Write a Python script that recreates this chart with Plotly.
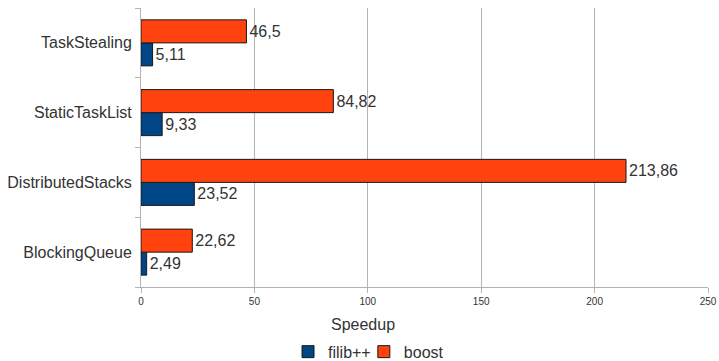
import plotly.graph_objects as go

categories = ["BlockingQueue", "DistributedStacks", "StaticTaskList", "TaskStealing"]
filib = [2.49, 23.52, 9.33, 5.11]
boost = [22.62, 213.86, 84.82, 46.5]
filib_labels = ["2,49", "23,52", "9,33", "5,11"]
boost_labels = ["22,62", "213,86", "84,82", "46,5"]
x_ticks = [0, 50, 100, 150, 200, 250]

FONT = "Liberation Sans, Arial, sans-serif"
TXT = "#333333"
GRID = "#b3b3b3"

fig = go.Figure()
fig.add_trace(go.Bar(
    y=categories, x=filib, orientation="h", name="filib++", legend="legend",
    marker=dict(color="#004586", line=dict(color="#1a1a1a", width=1)),
    text=filib_labels, textposition="outside", cliponaxis=False,
    textfont=dict(size=16, color=TXT, family=FONT),
))
fig.add_trace(go.Bar(
    y=categories, x=boost, orientation="h", name="boost", legend="legend2",
    marker=dict(color="#ff420e", line=dict(color="#1a1a1a", width=1)),
    text=boost_labels, textposition="outside", cliponaxis=False,
    textfont=dict(size=16, color=TXT, family=FONT),
))

legend_common = dict(orientation="h", xanchor="left", y=-0.232, yanchor="middle",
                     font=dict(size=16, color=TXT, family=FONT), itemwidth=30,
                     bgcolor="rgba(0,0,0,0)")
fig.update_layout(
    width=719, height=361,
    margin=dict(l=141, r=11, t=8, b=74, autoexpand=False),
    paper_bgcolor="white", plot_bgcolor="white",
    font=dict(family=FONT, color=TXT, size=16),
    barmode="group", bargap=0.34, bargroupgap=0,
    showlegend=True,
    legend=dict(x=0.2593, **legend_common),
    legend2=dict(x=0.393, **legend_common),
)
fig.update_xaxes(
    range=[0, 250], tickvals=x_ticks, showgrid=True, gridcolor=GRID, gridwidth=1,
    showline=True, linecolor=GRID, linewidth=1, ticks="outside", ticklen=5,
    tickcolor=GRID, tickfont=dict(size=10, color=TXT, family=FONT), zeroline=False,
)
fig.update_yaxes(
    showgrid=False, showline=True, linecolor=GRID, linewidth=1, ticks="outside",
    tickson="boundaries", ticklen=5, tickcolor=GRID, ticklabelstandoff=5,
    tickfont=dict(size=16, color=TXT, family=FONT),
)
fig.add_annotation(text="Speedup", xref="paper", yref="paper", x=0.391, y=-0.136,
                   xanchor="center", yanchor="middle", showarrow=False,
                   font=dict(size=16, color=TXT, family=FONT))

fig.write_html("out.html")
